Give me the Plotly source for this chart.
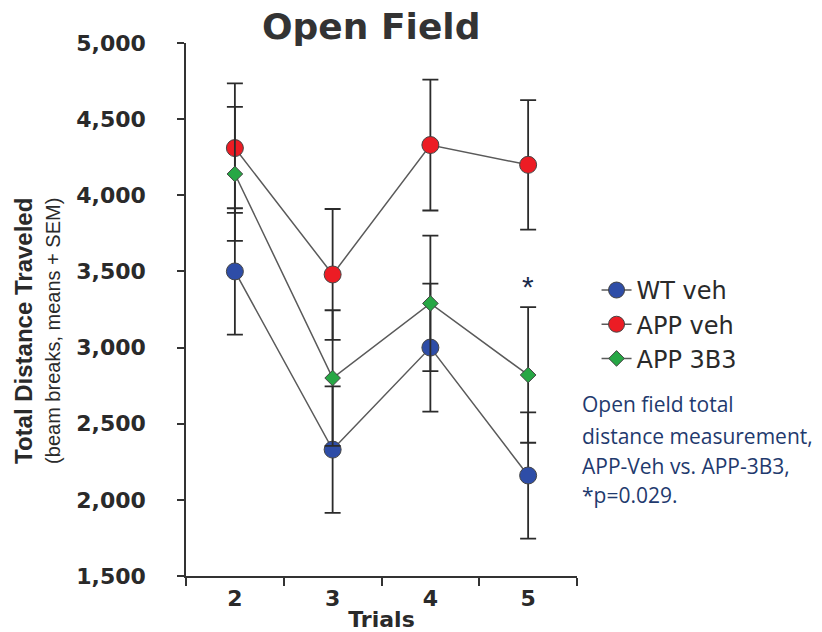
import plotly.graph_objects as go

trials = ["2", "3", "4", "5"]
wt_veh = [3500, 2330, 3000, 2160]
wt_veh_sem = [415, 415, 420, 415]
app_veh = [4310, 3480, 4330, 4200]
app_veh_sem = [425, 430, 430, 425]
app_3b3 = [4140, 2800, 3290, 2820]
app_3b3_sem = [440, 445, 445, 445]
series_names = ["WT veh", "APP veh", "APP 3B3"]
y_ticks = [1500, 2000, 2500, 3000, 3500, 4000, 4500, 5000]
star_trial = "5"
star_y = 3400
note_lines = ["Open field total", "distance measurement,",
              "APP-Veh vs. APP-3B3,", "*p=0.029."]

fig = go.Figure()

def add(name, y, sem, color, symbol, size):
    fig.add_trace(go.Scatter(
        x=trials, y=y, name=name, mode="lines+markers",
        line=dict(color="#5a5a5a", width=1.5),
        marker=dict(color=color, symbol=symbol, size=size,
                    line=dict(color="#444444", width=1)),
        error_y=dict(type="data", array=sem, visible=True,
                     color="#2b2b2b", thickness=1.8, width=8),
    ))

add(series_names[0], wt_veh, wt_veh_sem, "#2E4DA7", "circle", 17)
add(series_names[1], app_veh, app_veh_sem, "#EC1C24", "circle", 17)
add(series_names[2], app_3b3, app_3b3_sem, "#27A745", "diamond", 12)

fig.add_annotation(x=trials.index(star_trial), y=star_y, text="*", showarrow=False,
                   font=dict(family="Arial", size=30, color="#1a2a4a"),
                   xref="x", yref="y")

fig.add_annotation(x=0.473, xref="paper", y=1.0, yref="paper",
                   xanchor="center", yanchor="bottom", yshift=-6,
                   text="<b>Open Field</b>", showarrow=False,
                   font=dict(family="DejaVu Sans", size=36, color="#333333"))

fig.add_annotation(x=-0.414, xref="paper", y=0.46, yref="paper",
                   xanchor="center", yanchor="middle",
                   text="<b>Total Distance Traveled</b>", textangle=-90,
                   showarrow=False,
                   font=dict(family="Arial", size=24, color="#2a2a2a"))
fig.add_annotation(x=-0.34, xref="paper", y=0.46, yref="paper",
                   xanchor="center", yanchor="middle",
                   text="(beam breaks, means + SEM)", textangle=-90,
                   showarrow=False,
                   font=dict(family="Arial", size=20, color="#2a2a2a"))

note_y_px = [404, 436, 466, 495]
for line, ypx in zip(note_lines, note_y_px):
    fig.add_annotation(x=1.0, xref="paper", y=(576 - ypx) / 533, yref="paper",
                       xanchor="left", yanchor="middle", align="left", xshift=3,
                       text=line, showarrow=False,
                       font=dict(family="Open Sans", size=21, color="#1F3A6E"))

fig.update_layout(
    width=822, height=632,
    margin=dict(l=186, r=245, t=43, b=56, autoexpand=False),
    paper_bgcolor="white", plot_bgcolor="white",
    showlegend=True,
    legend=dict(x=1.05, xanchor="left", y=0.472, yanchor="middle",
                font=dict(family="DejaVu Sans", size=24, color="#2a2a2a"),
                tracegroupgap=0, bgcolor="rgba(0,0,0,0)"),
    xaxis=dict(type="category", range=[-0.5, 3.5], tickson="boundaries",
               automargin=False,
               showline=True, linecolor="#333333", linewidth=1.5,
               ticks="outside", ticklen=8, tickwidth=1.5, tickcolor="#333333",
               showgrid=False, zeroline=False, ticklabelstandoff=2,
               tickfont=dict(family="DejaVu Sans", size=22, color="#2a2a2a", weight="bold"),
               title=dict(text="<b>Trials</b>", standoff=3,
                          font=dict(family="DejaVu Sans", size=22, color="#2a2a2a"))),
    yaxis=dict(range=[1500, 5000], tickvals=y_ticks, tickformat=",",
               automargin=False,
               showline=True, linecolor="#333333", linewidth=1.5,
               ticks="outside", ticklen=7, tickwidth=1.5, tickcolor="#333333",
               showgrid=False, zeroline=False, ticklabelstandoff=27,
               tickfont=dict(family="DejaVu Sans", size=22, color="#2a2a2a", weight="bold")),
)

fig.write_html("out.html")
